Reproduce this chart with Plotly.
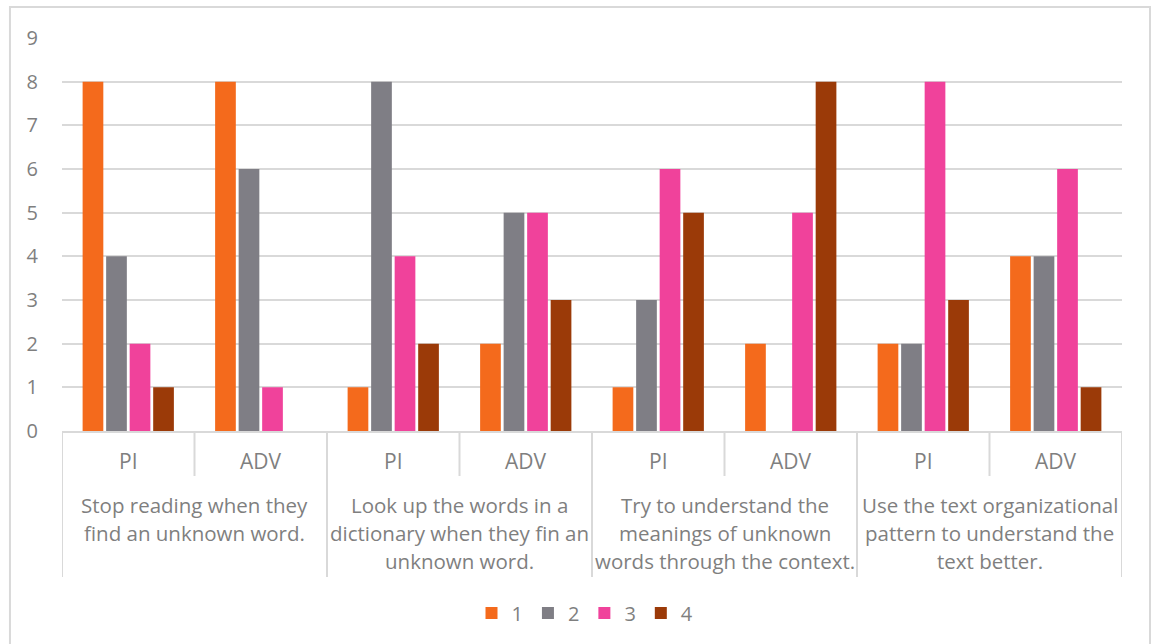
import plotly.graph_objects as go

# Survey responses per strategy and group
strategies = [
    ["Stop reading when they", "find an unknown word."],
    ["Look up the words in a", "dictionary when they fin an", "unknown word."],
    ["Try to understand the", "meanings of unknown", "words through the context."],
    ["Use the text organizational", "pattern to understand the", "text better."],
]
groups = ["PI", "ADV"]
series_names = ["1", "2", "3", "4"]
series_colors = ["#F46A1C", "#7F7E85", "#F0429B", "#9B3A08"]

s1 = [8, 8, 1, 2, 1, 2, 2, 4]
s2 = [4, 6, 8, 5, 3, 0, 2, 4]
s3 = [2, 1, 4, 5, 6, 5, 8, 6]
s4 = [1, 0, 2, 3, 5, 8, 3, 1]
series_values = [s1, s2, s3, s4]

n_cat = len(strategies) * len(groups)
x_pos = list(range(n_cat))

text_color = "#7F7F7F"
line_color = "#D9D9D9"
font_family = "'Open Sans', Lato, sans-serif"
label_size = 20.5
group_size = 21

fig = go.Figure()
for name, vals, col in zip(series_names, series_values, series_colors):
    fig.add_trace(go.Bar(
        x=x_pos, y=vals, name=name,
        marker=dict(color=col, line=dict(width=0)),
    ))

annotations = []
shapes = []

# inner level labels (PI / ADV)
for i in x_pos:
    annotations.append(dict(
        x=i, y=-0.0763, xref="x", yref="paper", text=groups[i % 2],
        showarrow=False, font=dict(size=group_size, color=text_color, family=font_family),
        xanchor="center", yanchor="middle",
    ))

# outer level labels, one annotation per wrapped line
line_y = [-0.1883, -0.2595, -0.3308]
for gi, lines in enumerate(strategies):
    cx = gi * 2 + 0.5
    for li, txt in enumerate(lines):
        annotations.append(dict(
            x=cx, y=line_y[li], xref="x", yref="paper", text=txt,
            showarrow=False, font=dict(size=label_size, color=text_color, family=font_family),
            xanchor="center", yanchor="middle",
        ))

# category dividers: short ones between PI/ADV, long ones between strategies
for k in range(n_cat + 1):
    xb = k - 0.5
    y_end = -0.3715 if k % 2 == 0 else -0.1145
    shapes.append(dict(
        type="line", xref="x", yref="paper", x0=xb, x1=xb, y0=0, y1=y_end,
        line=dict(color=line_color, width=2),
    ))

# chart frame
shapes.append(dict(
    type="rect", xref="paper", yref="paper",
    x0=-0.0491, x1=1.0264, y0=-0.6, y1=1.0789,
    line=dict(color=line_color, width=2), fillcolor="rgba(0,0,0,0)", layer="below",
))

fig.update_layout(
    width=1152, height=644,
    margin=dict(l=62, r=30, t=38, b=213),
    paper_bgcolor="white", plot_bgcolor="white",
    barmode="group", bargap=0.29, bargroupgap=0.12,
    font=dict(family=font_family, color=text_color, size=19),
    showlegend=True,
    legend=dict(
        orientation="h", x=0.4934, xanchor="center", y=-0.463, yanchor="middle",
        font=dict(size=20, color=text_color, family=font_family),
        itemwidth=30, tracegroupgap=0,
    ),
    annotations=annotations,
    shapes=shapes,
)
fig.update_xaxes(
    range=[-0.5, n_cat - 0.5], showticklabels=False, showgrid=False,
    zeroline=False, showline=True, linecolor=line_color, linewidth=2,
)
fig.update_yaxes(
    range=[0, 9], dtick=1, showgrid=True, gridcolor=line_color, gridwidth=2,
    zeroline=False, showline=False, ticks="", ticklabelstandoff=23,
    tickfont=dict(size=20, color=text_color, family=font_family),
)

fig.write_html("out.html")
